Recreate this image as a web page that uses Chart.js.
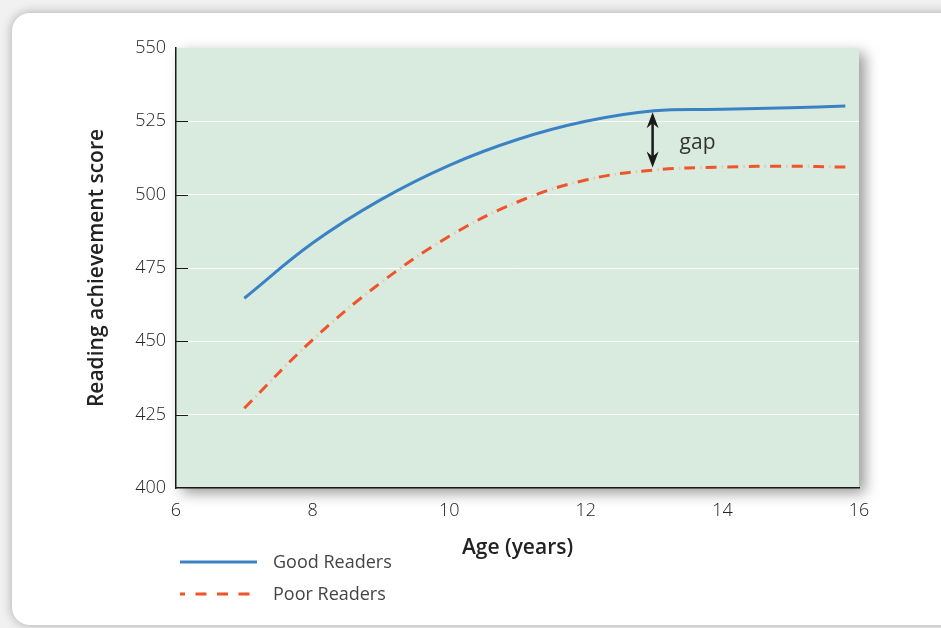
<!DOCTYPE html>
<html>
<head>
<meta charset="utf-8">
<title>Reading achievement by age</title>
<script src="https://cdn.jsdelivr.net/npm/chart.js@4.4.1/dist/chart.umd.min.js"></script>
<style>
  html, body { margin: 0; padding: 0; width: 941px; height: 628px; overflow: hidden; background: #f1f1f1; }
  .card { position: absolute; left: 12px; top: 13px; width: 980px; height: 612px; background: #fff;
          border-radius: 18px; box-shadow: 0 0 11px rgba(0,0,0,0.30); }
  #wrap { position: absolute; left: 0; top: 0; width: 941px; height: 628px; }
  .legend { position: absolute; left: 180px; top: 548px; font-family: "Open Sans", sans-serif;
            font-size: 18px; font-weight: 400; color: #444; }
  .legend .row { position: absolute; left: 0; height: 28px; width: 280px; }
  .legend svg { position: absolute; left: 0; top: 0; }
  .legend span { position: absolute; left: 93px; top: 1px; white-space: nowrap; }
</style>
</head>
<body>
<div class="card"></div>
<div id="wrap"><canvas id="chart" width="941" height="628"></canvas></div>
<div class="legend">
  <div class="row" style="top:0px">
    <svg width="80" height="28"><line x1="0" y1="14" x2="77" y2="14" stroke="#3b82c4" stroke-width="3"/></svg>
    <span>Good Readers</span>
  </div>
  <div class="row" style="top:32px">
    <svg width="80" height="28">
      <line x1="0" y1="14" x2="77" y2="14" stroke="#ecc3a6" stroke-width="3" stroke-dasharray="1.5 20" stroke-dashoffset="-1"/>
      <line x1="0" y1="14" x2="77" y2="14" stroke="#f0542a" stroke-width="3" stroke-dasharray="11 10.5" stroke-dashoffset="6"/>
    </svg>
    <span>Poor Readers</span>
  </div>
</div>
<script>
// Age (years) at each sample point
const ages = [7, 8, 9, 10, 11, 12, 13, 14, 15, 15.8];
// Mean reading achievement score, good readers
const goodReaders = [464.7, 483.5, 498.3, 510.0, 518.8, 525.0, 528.6, 529.1, 529.6, 530.2];
// Mean reading achievement score, poor readers
const poorReaders = [427.2, 450.5, 470.0, 485.8, 497.5, 505.0, 508.4, 509.4, 509.7, 509.4];
// Axis ticks
const xTicks = [6, 8, 10, 12, 14, 16];
const yTicks = [400, 425, 450, 475, 500, 525, 550];
// Age at which the gap between groups is marked
const gapAge = 13;
const gapLabel = 'gap';

const pts = (ys) => ages.map((a, i) => ({ x: a, y: ys[i] }));
const gapIndex = ages.indexOf(gapAge);

const BLUE = '#3b82c4';
const ORANGE = '#f0542a';
const PALE = '#ecc3a6';
const PLOT_BG = '#d9ebdf';
const FONT = '"Open Sans", sans-serif';

// Shaded plot panel with a soft drop shadow
const panelPlugin = {
  id: 'panel',
  beforeDraw(chart) {
    const { ctx, chartArea: a } = chart;
    ctx.save();
    ctx.shadowColor = 'rgba(0,0,0,0.40)';
    ctx.shadowBlur = 13;
    ctx.shadowOffsetX = 6;
    ctx.shadowOffsetY = 5;
    ctx.fillStyle = PLOT_BG;
    ctx.fillRect(a.left, a.top, a.right - a.left, a.bottom - a.top);
    ctx.restore();
  },
  beforeDatasetsDraw(chart) {
    // short inward tick marks on the score axis
    const { ctx, chartArea: a, scales: { y } } = chart;
    ctx.save();
    ctx.strokeStyle = '#1a1a1a';
    ctx.lineWidth = 1;
    yTicks.slice(1, -1).forEach(v => {
      const py = Math.round(y.getPixelForValue(v)) + 0.5;
      ctx.beginPath();
      ctx.moveTo(a.left, py);
      ctx.lineTo(a.left + 12, py);
      ctx.stroke();
    });
    ctx.restore();
  }
};

// Double-headed arrow marking the gap between the two groups
const gapPlugin = {
  id: 'gapArrow',
  afterDatasetsDraw(chart) {
    const { ctx, scales: { x, y } } = chart;
    const px = x.getPixelForValue(gapAge) - 1.5;
    const top = y.getPixelForValue(goodReaders[gapIndex]) + 1.5;
    const bot = y.getPixelForValue(poorReaders[gapIndex]) - 2.5;
    const head = (tipY, dir) => {
      ctx.beginPath();
      ctx.moveTo(px, tipY);
      ctx.lineTo(px + 6, tipY + dir * 16);
      ctx.lineTo(px, tipY + dir * 11);
      ctx.lineTo(px - 6, tipY + dir * 16);
      ctx.closePath();
      ctx.fill();
    };
    ctx.save();
    ctx.strokeStyle = '#1a1a1a';
    ctx.fillStyle = '#1a1a1a';
    ctx.lineWidth = 2.5;
    ctx.beginPath();
    ctx.moveTo(px, top + 8);
    ctx.lineTo(px, bot - 8);
    ctx.stroke();
    head(top, 1);
    head(bot, -1);
    ctx.font = '21px ' + FONT;
    ctx.fillStyle = '#333';
    ctx.textAlign = 'left';
    ctx.textBaseline = 'alphabetic';
    ctx.fillText(gapLabel, px + 27, (top + bot) / 2 + 9);
    ctx.restore();
  }
};

new Chart(document.getElementById('chart'), {
  type: 'line',
  data: {
    datasets: [
      {
        label: 'Good Readers',
        data: pts(goodReaders),
        borderColor: BLUE,
        borderWidth: 3,
        pointRadius: 0,
        tension: 0.4,
        fill: false
      },
      {
        label: 'Poor Readers',
        data: pts(poorReaders),
        borderColor: ORANGE,
        borderWidth: 3,
        borderDash: [11, 10.5],
        borderDashOffset: 0,
        pointRadius: 0,
        tension: 0.4,
        fill: false
      },
      {
        label: 'Poor Readers (dots)',
        data: pts(poorReaders),
        borderColor: PALE,
        borderWidth: 3,
        borderDash: [1.5, 20],
        borderDashOffset: 5.5,
        pointRadius: 0,
        tension: 0.4,
        fill: false
      }
    ]
  },
  options: {
    responsive: false,
    animation: false,
    events: [],
    layout: { padding: { left: 0, right: 82, top: 48, bottom: 67.4 } },
    plugins: { legend: { display: false }, tooltip: { enabled: false } },
    scales: {
      x: {
        type: 'linear',
        min: 6, max: 16,
        afterBuildTicks: (s) => { s.ticks = xTicks.map(v => ({ value: v })); },
        afterFit: (s) => { s.height = 72.6; },
        grid: { display: false, drawTicks: false },
        border: { display: true, color: '#1a1a1a', width: 1.5 },
        ticks: { padding: 12, color: '#222', font: { family: FONT, size: 18, weight: '300' } },
        title: {
          display: true, text: 'Age (years)', color: '#222',
          padding: 0,
          font: { family: FONT, size: 21, weight: '600' }
        }
      },
      y: {
        type: 'linear',
        min: 400, max: 550,
        afterBuildTicks: (s) => { s.ticks = yTicks.map(v => ({ value: v })); },
        afterFit: (s) => { s.width = 176; },
        grid: {
          drawTicks: false,
          lineWidth: 1,
          color: (c) => (c.tick && c.tick.value > 400 && c.tick.value < 550) ? '#ffffff' : 'rgba(0,0,0,0)'
        },
        border: { display: true, color: '#1a1a1a', width: 1.5 },
        ticks: { padding: 10, color: '#222', font: { family: FONT, size: 18, weight: '300' } },
        title: {
          display: true, text: 'Reading achievement score', color: '#222',
          padding: { top: 84, bottom: 0 },
          font: { family: FONT, size: 21, weight: '600' }
        }
      }
    }
  },
  plugins: [panelPlugin, gapPlugin]
});
</script>
</body>
</html>
